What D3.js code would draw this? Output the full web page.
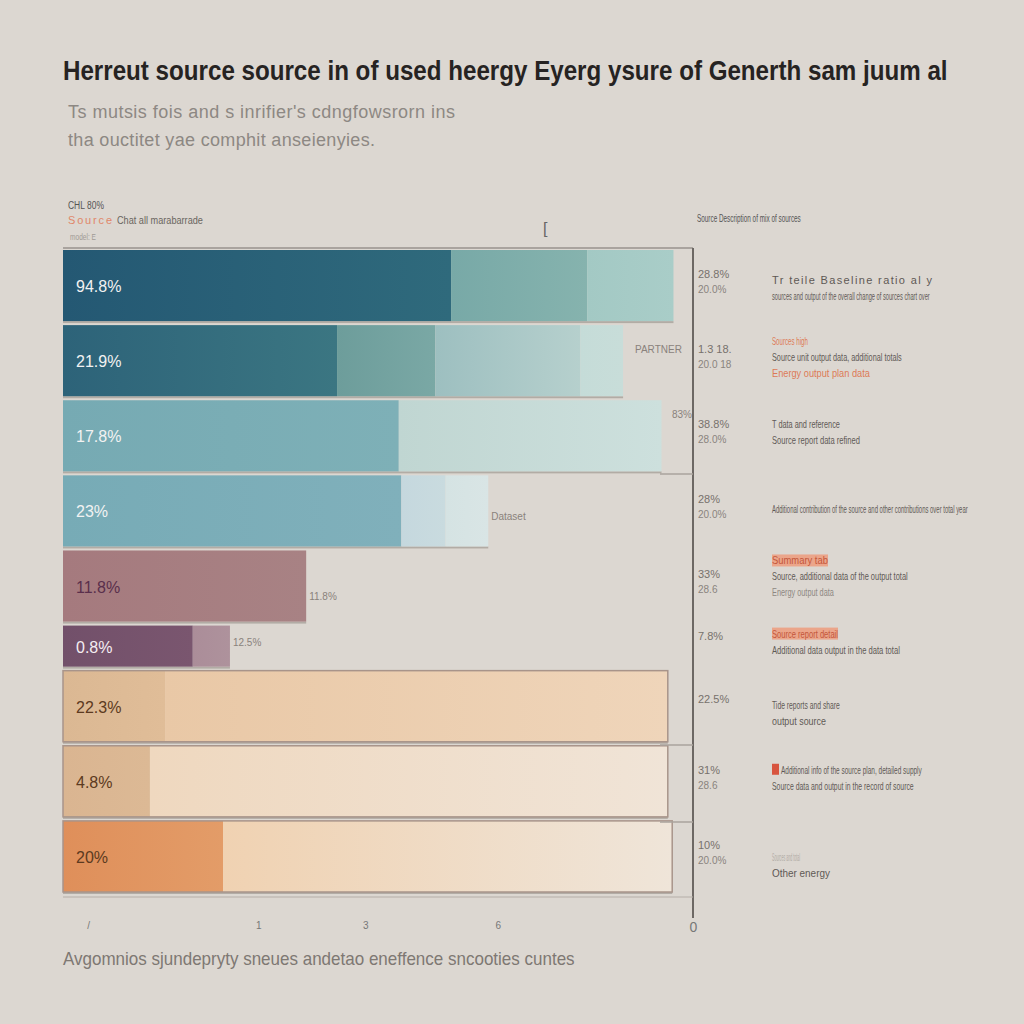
<!DOCTYPE html>
<html><head><meta charset="utf-8">
<script src="https://cdn.jsdelivr.net/npm/d3@7"></script>
<style>
html,body{margin:0;padding:0;background:#dcd7d1;}
svg{display:block;}
text{font-family:"Liberation Sans Narrow","Liberation Sans",Arial,sans-serif;}
</style></head><body>
<script>
// ---------- data ----------
const categories = ["Hydro","Wind","Solar","Bioenergy","Geothermal","Marine","Coal","Gas","Oil"];
const barLabels = ["94.8%","21.9%","17.8%","23%","11.8%","0.8%","22.3%","4.8%","20%"];
const seriesA = [61.6,43.5,53.3,53.7,38.6,20.6,16.2,13.8,25.4];
const seriesB = [21.6,15.6,41.7,7.0,0,5.9,79.8,82.2,71.3];
const seriesC = [13.7,23.0,0,6.8,0,0,0,0,0];
const seriesD = [0,6.8,0,0,0,0,0,0,0];
const outsideLabels = ["","PARTNER","83%","Dataset","11.8%","12.5%","","",""];
const tickValues = [4,31,48,69,100];
const tickLabels = ["/","1","3","6","0"];
const valueLine1 = ["28.8%","1.3 18.","38.8%","28%","33%","7.8%","22.5%","31%","10%"];
const valueLine2 = ["20.0%","20.0 18","28.0%","20.0%","28.6","","","28.6","20.0%"];
const descLines = [
  ["Tr teile Baseline ratio al y","sources and output of the overall change of sources chart over"],
  ["Sources high","Source unit output data, additional totals","Energy output plan data"],
  ["T data and reference","Source report data refined"],
  ["Additional contribution of the source and other contributions over total year"],
  ["Summary tab","Source, additional data of the output total","Energy output data"],
  ["Source report detail","Additional data output in the data total"],
  ["Tide reports and share","output source"],
  ["Additional info of the source plan, detailed supply","Source data and output in the record of source"],
  ["Sources and total","Other energy"]
];
// ---------- styles ----------
const segColors = [
  [["#245873","#2f6a7c"],["#78a9a7","#86b3ae"],["#a3c9c4","#a9cdc8"]],
  [["#2d6379","#3b7682"],["#6d9d9b","#7aa8a5"],["#9dbfc0","#b6d0cd"],["#c5dcd8","#c8ddd9"]],
  [["#76aab3","#7eb0b7"],["#c0d6d2","#cde0dd"]],
  [["#77abb6","#80b0bb"],["#c5d8de","#c9dbdf"],["#d5e3e3","#d9e5e5"]],
  [["#a57a7e","#a88284"]],
  [["#72506a","#7a566f"],["#ab8d99","#ae929c"]],
  [["#dbb893","#e0bd98"],["#e9c8a6","#efd5ba"]],
  [["#dab591","#dcb995"],["#efd8bf","#f0e4d7"]],
  [["#df8f5a","#e39c68"],["#f0d2b2","#efe5d9"]]
];
const labelColors = ["#f2f2f2","#f2f2f2","#f2f2f2","#f2f2f2","#5a2f4c","#f5eef2","#5c3a20","#5c3a20","#5c3a20"];

const W = 1024, H = 1024;
const svg = d3.select("body").append("svg").attr("width",W).attr("height",H);
svg.append("rect").attr("width",W).attr("height",H).attr("fill","#dcd7d1");
const defs = svg.append("defs");

const x = d3.scaleLinear().domain([0,100]).range([63,693]);
const weights = categories.map((c,i)=> i===5 ? 0.6 : 1);
const cum = [0]; weights.forEach(w=>cum.push(cum[cum.length-1]+w));
const yUnit = d3.scaleLinear().domain([0,cum[cum.length-1]]).range([250,896]);
const rowTop = i => yUnit(cum[i]);
const rowH = i => yUnit(cum[i+1]) - yUnit(cum[i]) - 3;

// fit text to a width: compress glyphs with a transform, or spread spacing
function fit(t, px, len){
  const w = t.node().getComputedTextLength();
  if(!len) return t;
  if(w > len){
    t.attr("transform",`translate(${px},0) scale(${len/w},1) translate(${-px},0)`);
  } else {
    t.attr("textLength",len).attr("lengthAdjust","spacing");
  }
  return t;
}
function txt(parent, s, px, py, size, fill, len, weight){
  const t = parent.append("text").attr("x",px).attr("y",py).attr("font-size",size).attr("fill",fill).text(s);
  if(weight) t.attr("font-weight",weight);
  return fit(t, px, len);
}
txt(svg,"Herreut source source in of used heergy Eyerg ysure of Generth sam juum al",63,80,27,"#262322",885,"bold");
txt(svg,"Ts mutsis fois and s inrifier's cdngfowsrorn ins",68,118,18,"#8d8883",387);
txt(svg,"tha ouctitet yae comphit anseienyies.",68,146,18,"#8d8883",307);
txt(svg,"CHL 80%",68,209,11,"#555",36);
txt(svg,"Source",68,224,11,"#e0876a",44);
txt(svg,"Chat all marabarrade",117,224,11,"#6a6560",86);
txt(svg,"model: E",70,240,9,"#a09a95",26);
txt(svg,"[",543,234,16,"#666");
txt(svg,"Source  Description of mix of sources",697,222,10,"#555",104);
txt(svg,"Avgomnios sjundepryty sneues andetao eneffence sncooties cuntes",63,965,18,"#7e7873",512);

// bars
const stacks = categories.map((c,i)=>{
  const vals=[seriesA[i],seriesB[i],seriesC[i],seriesD[i]];
  let s=0; return vals.map((v,k)=>{const o={i,k,x0:s,x1:s+v}; s+=v; return o;}).filter(d=>d.x1>d.x0);
});
const gBars = svg.append("g");
stacks.forEach((segs,i)=>{
  const total = segs[segs.length-1].x1;
  gBars.append("rect").attr("x",x(0)).attr("y",rowTop(i)+rowH(i)-1).attr("width",x(total)-x(0)).attr("height",2).attr("fill","#8f8882").attr("opacity",0.55);
  segs.forEach(d=>{
    const id = `g${i}_${d.k}`;
    const cs = segColors[i][d.k];
    const lg = defs.append("linearGradient").attr("id",id);
    lg.append("stop").attr("offset","0%").attr("stop-color",cs[0]);
    lg.append("stop").attr("offset","100%").attr("stop-color",cs[1]);
    gBars.append("rect").attr("x",x(d.x0)).attr("y",rowTop(i)).attr("width",x(d.x1)-x(d.x0)).attr("height",rowH(i)-1).attr("fill",`url(#${id})`);
  });
  if(i>=6){
    gBars.append("rect").attr("x",x(0)).attr("y",rowTop(i)).attr("width",x(total)-x(0)).attr("height",rowH(i)-1)
      .attr("fill","none").attr("stroke","#a8948a").attr("stroke-width",1.5);
  }
  gBars.append("text").attr("x",76).attr("y",rowTop(i)+rowH(i)/2+6).attr("font-size",16)
    .attr("fill",labelColors[i]).attr("font-family","'Liberation Serif',serif").text(barLabels[i]);
  if(outsideLabels[i]){
    const ox = i===1 ? 635 : i===2 ? 672 : x(total)+3;
    gBars.append("text").attr("x",ox).attr("y",rowTop(i)+(i===2?18:i===1?28:i===3?45:i===4?50:20)).attr("font-size",10)
      .attr("fill","#8a827c").text(outsideLabels[i]);
  }
});

// frame lines
svg.append("line").attr("x1",63).attr("x2",693).attr("y1",248).attr("y2",248).attr("stroke","#a9a39e").attr("stroke-width",2);
svg.append("line").attr("x1",x(100)).attr("x2",x(100)).attr("y1",248).attr("y2",918).attr("stroke","#6d6864").attr("stroke-width",2);
[474,745,822].forEach(yy=>svg.append("line").attr("x1",660).attr("x2",693).attr("y1",yy).attr("y2",yy).attr("stroke","#aaa39d").attr("stroke-width",1.5));
svg.append("line").attr("x1",63).attr("x2",693).attr("y1",897).attr("y2",897).attr("stroke","#b5aea8").attr("stroke-width",1);

// x axis
const axis = d3.axisBottom(x).tickValues(tickValues).tickFormat((d,k)=>tickLabels[k]).tickSize(0).tickPadding(0);
const ga = svg.append("g").attr("transform","translate(0,922)").call(axis);
ga.select(".domain").remove();
ga.selectAll("text").attr("font-size",(d,k)=>k===4?14:10).attr("fill","#777").attr("font-family","'Liberation Sans',sans-serif");

// right-hand annotations
const gR = svg.append("g");
categories.forEach((c,i)=>{
  const cy = rowTop(i)+ (i===5?14:i===6?32:28);
  gR.append("text").attr("x",698).attr("y",cy).attr("font-size",11).attr("fill","#77716c").text(valueLine1[i]);
  if(valueLine2[i]) gR.append("text").attr("x",698).attr("y",cy+15).attr("font-size",10).attr("fill","#8a847e").text(valueLine2[i]);
  const lens = [[160,158],[36,130,98],[68,88],[196],[56,136,62],[66,128],[68,54],[150,142],[28,58]][i];
  const dy0 = rowTop(i) + (i===0?34:i===1?20:i===2?28:i===3?38:i===4?14:i===5?12:i===6?38:i===7?28:i===8?40:30);
  descLines[i].forEach((s,k)=>{
    const yy = dy0 + k*16;
    let fill = "#5f5955";
    if((i===4||i===5)&&k===0){
      gR.append("rect").attr("x",772).attr("y",yy-10).attr("width",lens[k]).attr("height",12).attr("fill","#eba58a");
      fill = "#c4563a";
    }
    if(i===1&&(k===0||k===2)) fill = "#dc7a56";
    if(i===8&&k===0) fill = "#b0aaa5";
    if(i===4&&k===2) fill = "#8d8782";
    let tx = 772;
    if(i===7&&k===0){
      gR.append("rect").attr("x",772).attr("y",yy-10).attr("width",7).attr("height",11).attr("fill","#d8553f");
      tx = 781;
    }
    txt(gR, s, tx, yy, 11, fill, lens[k]-(tx-772));
  });
});
</script>
</body></html>
